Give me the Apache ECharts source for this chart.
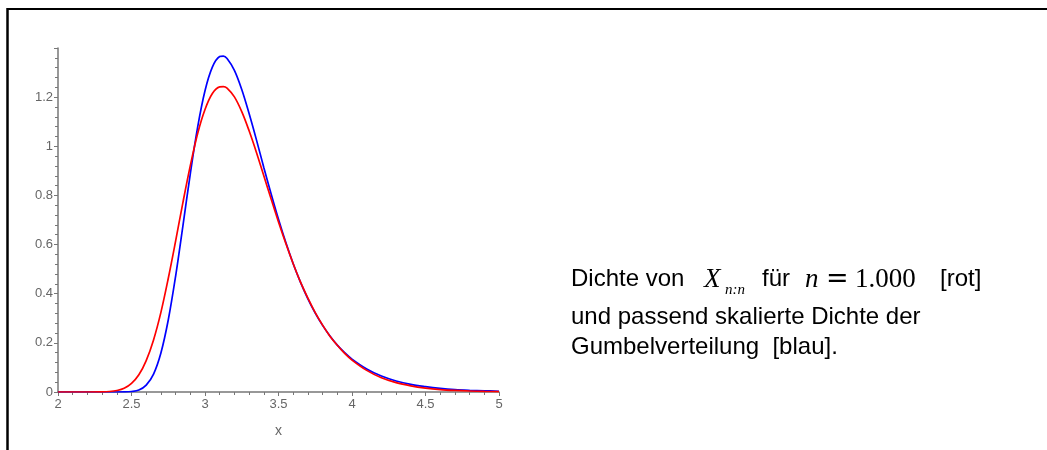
<!DOCTYPE html>
<html>
<head>
<meta charset="utf-8">
<script src="https://cdn.jsdelivr.net/npm/echarts@6/dist/echarts.min.js"></script>
<style>
html,body{margin:0;padding:0;background:#fff;}
#chart{width:1047px;height:450px;}
</style>
</head>
<body>
<div id="chart"></div>
<script>
// x positions
const xValues = [2.0, 2.1, 2.2, 2.3, 2.35, 2.4, 2.45, 2.5, 2.55, 2.6, 2.65, 2.7, 2.75, 2.8, 2.85, 2.9, 2.95,
  3.0, 3.05, 3.1, 3.125, 3.15, 3.2, 3.25, 3.3, 3.35, 3.4, 3.45, 3.5, 3.55, 3.6, 3.65, 3.7, 3.75, 3.8, 3.85, 3.9, 3.95,
  4.0, 4.1, 4.2, 4.3, 4.4, 4.5, 4.6, 4.7, 4.8, 4.9, 5.0];
// density of X_{n:n}, n = 1000 [red]
const redValues = [0, 0, 0, 0.0006, 0.002, 0.006, 0.015, 0.035, 0.070, 0.128, 0.212, 0.324, 0.462, 0.614, 0.772, 0.921, 1.052,
  1.150, 1.215, 1.242, 1.243, 1.237, 1.201, 1.141, 1.063, 0.975, 0.880, 0.785, 0.692, 0.604, 0.522, 0.447, 0.382, 0.323, 0.272, 0.227, 0.190, 0.157,
  0.130, 0.088, 0.058, 0.038, 0.025, 0.016, 0.010, 0.0064, 0.0040, 0.0024, 0.0015];
// scaled Gumbel density [blue]
const blueValues = [0, 0, 0, 0, 0, 0, 0.0003, 0.002, 0.008, 0.028, 0.073, 0.159, 0.293, 0.471, 0.677, 0.888, 1.078,
  1.226, 1.322, 1.365, 1.367, 1.357, 1.309, 1.231, 1.133, 1.026, 0.914, 0.806, 0.703, 0.608, 0.522, 0.446, 0.379, 0.321, 0.271, 0.228, 0.191, 0.160,
  0.134, 0.094, 0.065, 0.045, 0.031, 0.022, 0.015, 0.010, 0.007, 0.005, 0.003];
// axis ticks
const xTicks = [2, 2.5, 3, 3.5, 4, 4.5, 5];
const yTicks = [0, 0.2, 0.4, 0.6, 0.8, 1, 1.2];

const chart = echarts.init(document.getElementById('chart'), null, {renderer: 'canvas'});

const pairs = (ys) => xValues.map((x, i) => [x, ys[i]]);
const labelFont = {color: '#666', fontSize: 13, fontFamily: 'Liberation Sans, Arial, sans-serif'};
const SANS = '24px "Liberation Sans", Arial, sans-serif';
const SERIF_I = 'italic 27px "Liberation Serif", "Times New Roman", serif';

const option = {
  animation: false,
  backgroundColor: '#fff',
  grid: {left: 58, right: 548, top: 48, bottom: 58},
  xAxis: {
    type: 'value', min: xTicks[0], max: xTicks[xTicks.length - 1], interval: 0.5,
    name: 'x', nameLocation: 'middle', nameGap: 32,
    nameTextStyle: {color: '#666', fontSize: 14, fontFamily: 'Liberation Sans, Arial, sans-serif'},
    axisLine: {show: true, onZero: false, lineStyle: {color: '#777', width: 1.5}},
    axisTick: {show: true, length: 4, lineStyle: {color: '#777'}},
    minorTick: {show: true, splitNumber: 5, length: 3, lineStyle: {color: '#777'}},
    splitLine: {show: false},
    axisLabel: Object.assign({margin: 6, formatter: (v) => xTicks.includes(+v.toFixed(2)) ? String(v) : ''}, labelFont)
  },
  yAxis: {
    type: 'value', min: yTicks[0], max: 1.4, interval: 0.2,
    axisLine: {show: true, lineStyle: {color: '#777', width: 1.5}},
    axisTick: {show: true, length: 4, lineStyle: {color: '#777'}},
    minorTick: {show: true, splitNumber: 5, length: 3, lineStyle: {color: '#777'}},
    splitLine: {show: false},
    axisLabel: Object.assign({margin: 5, showMaxLabel: false,
      formatter: (v) => yTicks.includes(+v.toFixed(2)) ? String(v) : ''}, labelFont)
  },
  series: [
    {type: 'line', name: 'Gumbel', data: pairs(blueValues), showSymbol: false, smooth: 0.35,
      lineStyle: {color: '#0000ff', width: 1.7}, itemStyle: {color: '#0000ff'}, z: 2},
    {type: 'line', name: 'Xnn', data: pairs(redValues), showSymbol: false, smooth: 0.35,
      lineStyle: {color: '#ff0000', width: 1.7}, itemStyle: {color: '#ff0000'}, z: 3}
  ],
  graphic: [
    {type: 'line', shape: {x1: 7, y1: 9, x2: 1047, y2: 9}, style: {stroke: '#000', lineWidth: 2}},
    {type: 'line', shape: {x1: 7.5, y1: 8, x2: 7.5, y2: 450}, style: {stroke: '#000', lineWidth: 2.5}},
    {type: 'text', left: 571, top: 267, style: {text: 'Dichte von', font: SANS, fill: '#000'}},
    {type: 'text', left: 704, top: 266, style: {text: 'X', font: SERIF_I, fill: '#000'}},
    {type: 'text', left: 725, top: 283, style: {text: 'n:n', font: 'italic 15px "Liberation Serif", "Times New Roman", serif', fill: '#000'}},
    {type: 'text', left: 762, top: 267, style: {text: 'für', font: SANS, fill: '#000'}},
    {type: 'text', left: 805, top: 266, style: {text: 'n', font: SERIF_I, fill: '#000'}},
    {type: 'text', left: 826, top: 266, style: {text: '=', font: '27px "DejaVu Serif", serif', fill: '#000'}},
    {type: 'text', left: 855, top: 266, style: {text: '1.000', font: '27px "Liberation Serif", "Times New Roman", serif', fill: '#000'}},
    {type: 'text', left: 940, top: 267, style: {text: '[rot]', font: SANS, fill: '#000'}},
    {type: 'text', left: 571, top: 305, style: {text: 'und passend skalierte Dichte der', font: SANS, fill: '#000'}},
    {type: 'text', left: 571, top: 335, style: {text: 'Gumbelverteilung  [blau].', font: SANS, fill: '#000'}}
  ]
};
chart.setOption(option);
</script>
</body>
</html>
